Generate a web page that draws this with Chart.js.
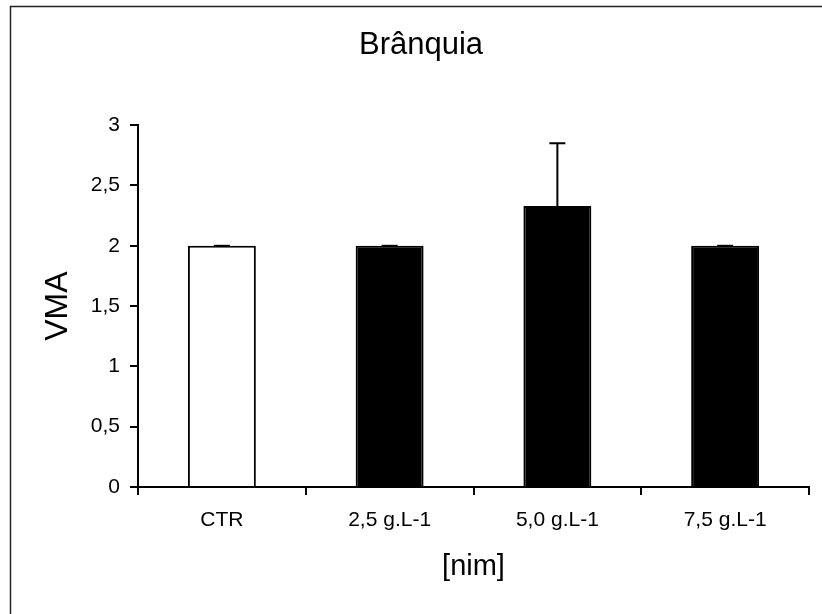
<!DOCTYPE html>
<html lang="pt-br">

<head>
  <meta charset="UTF-8">
  <title>Brânquia - VMA</title>
  <script src="https://cdn.jsdelivr.net/npm/chart.js"></script>
  <style>
    body {
      margin: 0;
      background: #ffffff;
    }

    canvas {
      display: block;
    }
  </style>
</head>

<body>

  <canvas id="vmaChart" width="822" height="614"></canvas>

  <script>
    // grupos de tratamento e valores medios (VMA) com desvio
    const categorias = ['CTR', '2,5 g.L-1', '5,0 g.L-1', '7,5 g.L-1'];
    const medias = [2, 2, 2.33, 2];
    const desvios = [0, 0, 0.52, 0];

    const fonte = "'Liberation Sans', Arial, sans-serif";

    // moldura superior e esquerda da figura
    const moldura = {
      id: 'moldura',
      beforeDraw(chart) {
        const ctx = chart.ctx;
        ctx.save();
        ctx.strokeStyle = '#222222';
        ctx.lineWidth = 1.5;
        ctx.beginPath();
        ctx.moveTo(10.5, chart.height);
        ctx.lineTo(10.5, 6.5);
        ctx.lineTo(chart.width, 6.5);
        ctx.stroke();
        ctx.restore();
      }
    };

    // barras de erro (so para cima)
    const barrasErro = {
      id: 'barrasErro',
      afterDatasetsDraw(chart) {
        const ctx = chart.ctx;
        const y = chart.scales.y;
        const meta = chart.getDatasetMeta(0);
        ctx.save();
        ctx.strokeStyle = '#000000';
        ctx.lineWidth = 2;
        meta.data.forEach((bar, i) => {
          const topo = y.getPixelForValue(medias[i] + desvios[i]);
          ctx.beginPath();
          ctx.moveTo(bar.x, bar.y);
          ctx.lineTo(bar.x, topo);
          ctx.moveTo(bar.x - 8, topo);
          ctx.lineTo(bar.x + 8, topo);
          ctx.stroke();
        });
        ctx.restore();
      }
    };

    const ctx = document.getElementById('vmaChart').getContext('2d');

    new Chart(ctx, {
      type: 'bar',
      data: {
        labels: categorias,
        datasets: [{
          data: medias,
          backgroundColor: (c) => c.dataIndex === 0 ? '#ffffff' : '#000000',
          borderColor: '#000000',
          borderWidth: 2,
          categoryPercentage: 1,
          barPercentage: 0.405
        }]
      },
      options: {
        responsive: false,
        animation: false,
        layout: {
          padding: { left: 33, right: 13, top: 0, bottom: 0 }
        },
        plugins: {
          legend: { display: false },
          tooltip: { enabled: false },
          title: {
            display: true,
            text: 'Brânquia',
            color: '#000000',
            font: { family: fonte, size: 31, weight: 'normal' },
            padding: { top: 27, bottom: 61 }
          }
        },
        scales: {
          x: {
            grid: {
              drawOnChartArea: false,
              drawTicks: true,
              tickLength: 8,
              color: '#000000',
              lineWidth: 2
            },
            border: { display: true, color: '#000000', width: 2 },
            ticks: {
              color: '#000000',
              padding: 13,
              maxRotation: 0,
              font: { family: fonte, size: 21 }
            },
            title: {
              display: true,
              text: '[nim]',
              color: '#000000',
              font: { family: fonte, size: 29 },
              padding: { top: 0, bottom: 30 }
            },
            afterFit(scale) {
              scale.height = 127;
            }
          },
          y: {
            min: 0,
            max: 3,
            grid: {
              drawOnChartArea: false,
              drawTicks: true,
              tickLength: 8,
              color: '#000000',
              lineWidth: 2
            },
            border: { display: true, color: '#000000', width: 2 },
            ticks: {
              stepSize: 0.5,
              color: '#000000',
              padding: 10,
              font: { family: fonte, size: 21 },
              callback: (v) => v.toString().replace('.', ',')
            },
            title: {
              display: true,
              text: 'VMA',
              color: '#000000',
              font: { family: fonte, size: 32 },
              padding: { top: 6, bottom: 0 }
            },
            afterFit(scale) {
              scale.width = 105;
            }
          }
        }
      },
      plugins: [moldura, barrasErro]
    });
  </script>

</body>

</html>
